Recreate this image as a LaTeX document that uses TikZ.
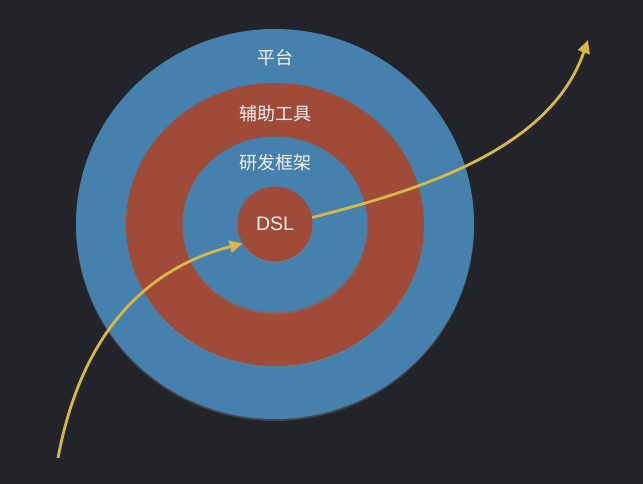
\documentclass[tikz,border=0pt]{standalone}
\usepackage{fontspec}
\setmainfont{Liberation Sans}
\newfontfamily\cjk{Noto Sans CJK SC}
\usetikzlibrary{arrows.meta,shapes.geometric,shadows}
\definecolor{bgc}{HTML}{232429}
\definecolor{ringblue}{HTML}{4680AD}
\definecolor{ringred}{HTML}{A04B37}
\definecolor{arrowy}{HTML}{D8B845}
\definecolor{txt}{HTML}{F2F2F2}
\begin{document}
\begin{tikzpicture}[x=1pt,y=-1pt,
  ring/.style={ellipse,inner sep=0pt,draw=none,
    drop shadow={shadow xshift=0pt,shadow yshift=-2pt,opacity=0.35}},
  cjklabel/.style={text=txt,font=\cjk\fontsize{18}{21}\selectfont,inner sep=0pt},
  flow/.style={draw=arrowy,line width=2.8pt,-{Triangle[length=13pt,width=12pt]}}
]
\fill[bgc] (0,0) rectangle (643,484);
\useasboundingbox (0,0) rectangle (643,484);
\node[ring,fill=ringblue,minimum width=398pt,minimum height=390pt] (platform) at (275,224) {};
\node[ring,fill=ringred,minimum width=298pt,minimum height=283pt] (tools) at (275,224.5) {};
\node[ring,fill=ringblue,minimum width=185pt,minimum height=176pt] (framework) at (275,224.5) {};
\node[ring,circle,fill=ringred,minimum size=75pt,text=txt,font=\fontsize{19.5}{23}\selectfont] (dsl) at (275,224) {DSL};
\node[cjklabel] (lplatform) at (275,57.5) {平台};
\node[cjklabel] (ltools) at (275,113.5) {辅助工具};
\node[cjklabel] (lframework) at (275,162.5) {研发框架};
\coordinate (start) at (58,458);
\coordinate (finish) at (588,40);
\draw[flow] (start) .. controls (80,340) and (140,270) .. (dsl.211);
\draw[flow] (dsl.10) .. controls (420,190) and (550,150) .. (finish);
\end{tikzpicture}
\end{document}
